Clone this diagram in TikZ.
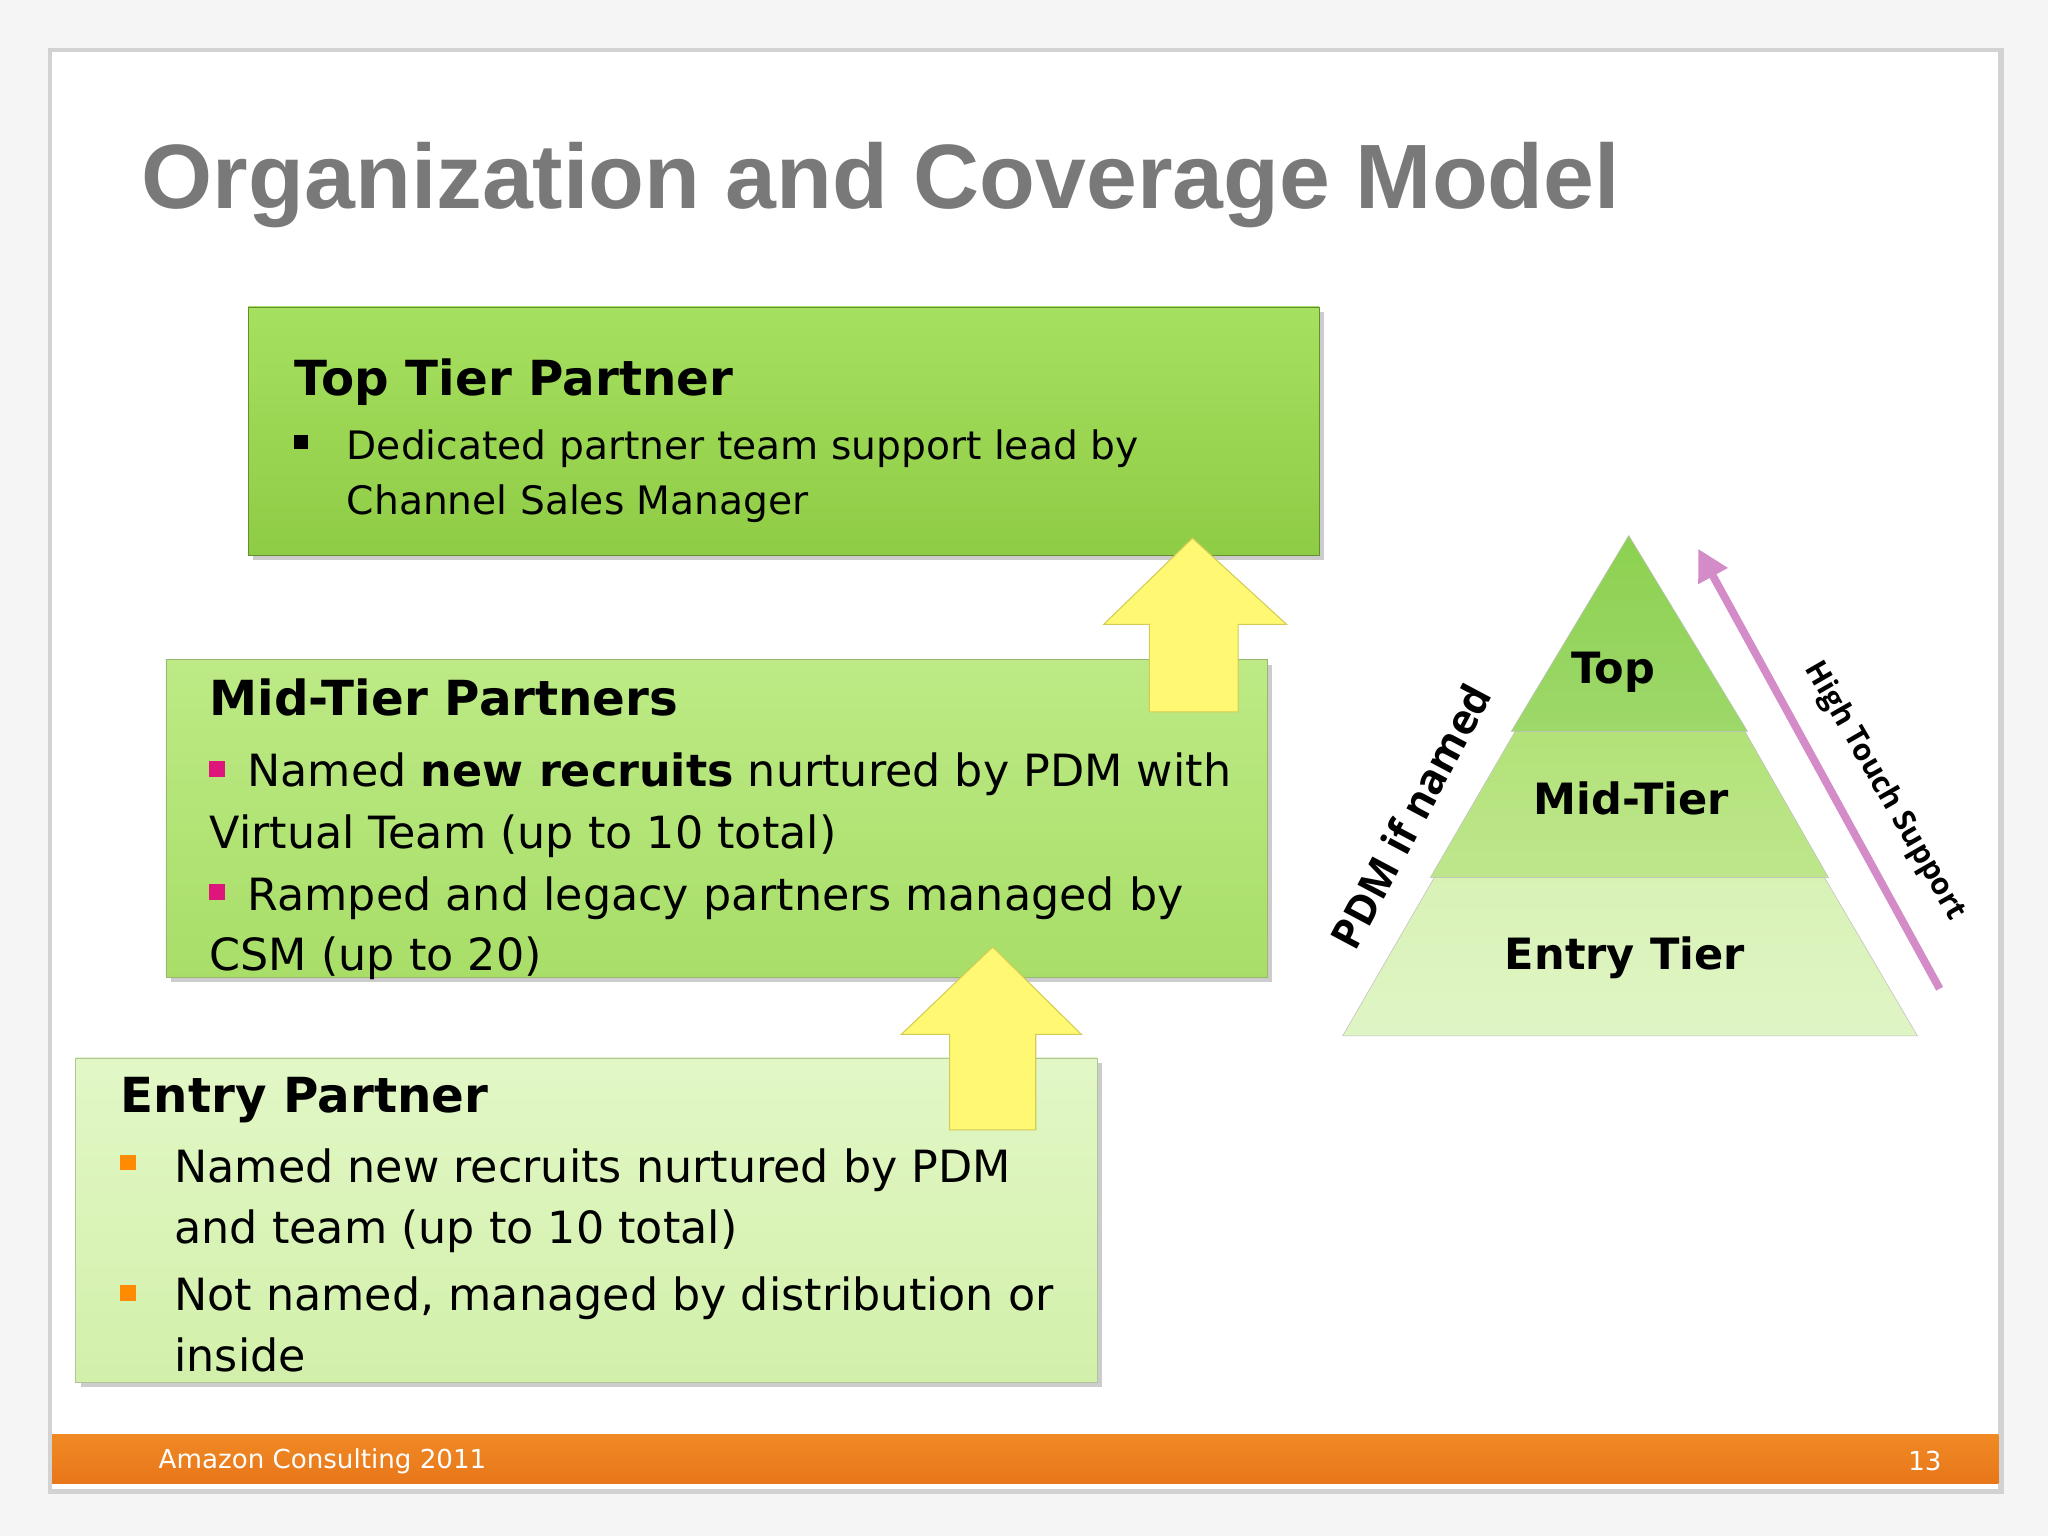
\documentclass[tikz,border=0pt]{standalone}
\usepackage{fontspec}
\usetikzlibrary{arrows.meta}
\setmainfont{DejaVu Sans}
\newfontfamily\lsans{Liberation Sans}
\newfontfamily\osans{Open Sans}
\definecolor{gtopA}{HTML}{A6E060}
\definecolor{gtopB}{HTML}{8FCC45}
\definecolor{gmidA}{HTML}{BDEA85}
\definecolor{gmidB}{HTML}{A8DE68}
\definecolor{gentA}{HTML}{E2F7C6}
\definecolor{gentB}{HTML}{D2F0AA}
\definecolor{pyrT}{HTML}{8CD150}
\definecolor{pyrM}{HTML}{B2E278}
\definecolor{pyrE}{HTML}{D8F2B6}
\definecolor{pinkA}{HTML}{D48CC8}
\definecolor{orgA}{HTML}{F08A24}
\definecolor{orgB}{HTML}{E8761A}
\begin{document}
\begin{tikzpicture}[x=1pt,y=-1pt,
  head/.style={anchor=base west,font=\fontsize{37}{42}\selectfont\bfseries},
  txt/.style={anchor=base west,font=\fontsize{34}{40}\selectfont},
  ttxt/.style={anchor=base west,font=\fontsize{30}{36}\selectfont},
  yarrow/.style={fill=yellow!55!white,draw=yellow!60!gray,line width=0.8pt},
  plab/.style={font=\fontsize{33}{38}\selectfont\bfseries}]
\useasboundingbox (0,0) rectangle (1568,1176);
\fill[gray!8] (0,0) rectangle (1568,1176);
\fill[gray!35] (37,37) rectangle (1534,1144);
\fill[white] (40,40) rectangle (1530,1140);
\node[anchor=base west,text=gray!95!black,font=\lsans\fontsize{70}{76}\selectfont\bfseries] (title) at (105,160) {Organization and Coverage Model};
% top box
\fill[gray!40] (194,239) rectangle (1014,429);
\shade[top color=gtopA, bottom color=gtopB,draw=gtopB!70!black] (190,235) rectangle (1010,425);
\node[head] (th) at (222,303) {Top Tier Partner};
\fill (225,333) rectangle (236,344);
\node[ttxt] (t1) at (262,352) {Dedicated partner team support lead by};
\node[ttxt] (t2) at (262,394) {Channel Sales Manager};
% mid box
\fill[gray!40] (131,509) rectangle (974,752);
\shade[top color=gmidA, bottom color=gmidB,draw=gmidB!60!gray] (127,505) rectangle (970,748);
\node[head] (mh) at (157,548) {Mid-Tier Partners};
\fill[magenta!70!purple] (160,583) rectangle (172,595);
\node[txt] (m1) at (186,602) {Named \textbf{new recruits} nurtured by PDM with};
\node[txt] (m2) at (157,650) {Virtual Team (up to 10 total)};
\fill[magenta!70!purple] (160,677) rectangle (172,689);
\node[txt] (m3) at (186,697) {Ramped and legacy partners managed by};
\node[txt] (m4) at (157,743) {CSM (up to 20)};
% entry box
\fill[gray!40] (62,814) rectangle (844,1062);
\shade[top color=gentA, bottom color=gentB,draw=gentB!60!gray] (58,810) rectangle (840,1058);
\node[head] (eh) at (89,852) {Entry Partner};
\fill[orange!90!yellow] (92,884) rectangle (104,896);
\node[txt] (e1) at (130,905) {Named new recruits nurtured by PDM};
\node[txt] (e2) at (130,952) {and team (up to 10 total)};
\fill[orange!90!yellow] (92,984) rectangle (104,996);
\node[txt] (e3) at (130,1003) {Not named, managed by distribution or};
\node[txt] (e4) at (130,1050) {inside};
% yellow arrows
\draw[yarrow] (880,545) -- (880,478) -- (845,478) -- (913,412) -- (985,478) -- (948,478) -- (948,545) -- cycle;
\draw[yarrow] (727,865) -- (727,792) -- (690,792) -- (760,725) -- (828,792) -- (793,792) -- (793,865) -- cycle;
% pyramid
\shade[top color=pyrE,bottom color=pyrE!80!white,draw=gray!50] (1098,672) -- (1397,672) -- (1468,793) -- (1028,793) -- cycle;
\shade[top color=pyrM,bottom color=pyrM!85!white,draw=gray!50] (1160,560) -- (1336,560) -- (1400,672) -- (1095,672) -- cycle;
\shade[top color=pyrT,bottom color=pyrT!85!white,draw=gray!50] (1247,410) -- (1338,560) -- (1157,560) -- cycle;
\node[plab] (ptop) at (1235,515) {Top};
\node[plab] (pmid) at (1249,611) {Mid-Tier};
\node[plab] (pent) at (1244,733) {Entry Tier};
\node[rotate=62,font=\osans\fontsize{32}{36}\selectfont\bfseries] (pdm) at (1080,625) {PDM if named};
\coordinate (ha) at (1485,757);
\coordinate (hb) at (1300,420);
\draw[line width=6pt,draw=pinkA,-{Triangle[length=24pt,width=24pt]}] (ha) -- (hb);
\node[rotate=-60,font=\osans\fontsize{23}{28}\selectfont\bfseries] (hts) at (1443,606) {High Touch Support};
% footer
\shade[top color=orgA,bottom color=orgB] (40,1098) rectangle (1530,1136);
\node[anchor=base west,text=white,font=\fontsize{20}{24}\selectfont] (foot) at (118,1124) {Amazon Consulting 2011};
\node[anchor=base east,text=white,font=\fontsize{20}{24}\selectfont] (pg) at (1490,1126) {13};
\end{tikzpicture}
\end{document}
